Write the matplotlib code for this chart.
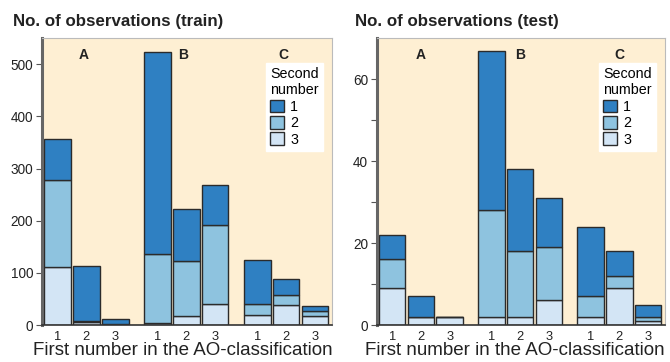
import numpy as np
import matplotlib
matplotlib.use('Agg')
import matplotlib.pyplot as plt
from matplotlib.patches import Patch

plt.rcParams['font.family'] = ['Liberation Sans', 'DejaVu Sans']

groups = ['A', 'B', 'C']
first_labels = ['1', '2', '3', '1', '2', '3', '1', '2', '3']

# stacked counts, bottom -> top is second number 3, 2, 1
train_3 = [111, 5, 1, 4, 17, 40, 20, 38, 17]
train_2 = [167, 2, 1, 133, 105, 151, 20, 20, 9]
train_1 = [78, 106, 9, 386, 100, 77, 85, 31, 10]

test_3 = [9, 2, 2, 2, 2, 6, 2, 9, 1]
test_2 = [7, 0, 0, 26, 16, 13, 5, 3, 1]
test_1 = [6, 5, 0, 39, 20, 12, 17, 6, 3]

c1 = '#2f80c2'
c2 = '#8ec3df'
c3 = '#d3e5f5'
bg = '#feefd3'
edge = '#2b2b2b'

pos = np.array([0, 1, 2, 3.46, 4.46, 5.46, 6.92, 7.92, 8.92])
width = 0.92

fig = plt.figure(figsize=(6.7, 3.62), dpi=100)
ax1 = fig.add_axes([0.0622, 0.1022, 0.433, 0.792])
ax2 = fig.add_axes([0.562, 0.1022, 0.430, 0.792])


def draw(ax, s3, s2, s1, ymax, major, minor, title, title_x, label_x, grp_dx):
    s3 = np.array(s3); s2 = np.array(s2); s1 = np.array(s1)
    ax.set_facecolor(bg)
    ax.bar(pos, s3, width, color=c3, edgecolor=edge, linewidth=1.0)
    ax.bar(pos, s2, width, bottom=s3, color=c2, edgecolor=edge, linewidth=1.0)
    ax.bar(pos, s1, width, bottom=s3 + s2, color=c1, edgecolor=edge, linewidth=1.0)
    ax.set_xlim(-0.55, 9.5)
    ax.set_ylim(0, ymax)
    ax.set_yticks(major)
    ax.set_yticks(minor, minor=True)
    ax.tick_params(axis='y', which='both', direction='out', length=4, width=0.8,
                   color='#555555', labelsize=9.8, pad=2, labelcolor='#222222')
    ax.set_xticks(pos)
    ax.set_xticklabels(first_labels)
    ax.tick_params(axis='x', length=0, labelsize=9.3, pad=4, labelcolor='#222222')
    ax.spines['left'].set_color('#666666')
    ax.spines['left'].set_linewidth(2.2)
    ax.spines['bottom'].set_color('#333333')
    ax.spines['bottom'].set_linewidth(1.2)
    ax.spines['top'].set_color('#bbbbbb')
    ax.spines['right'].set_color('#bbbbbb')
    ax.spines['top'].set_linewidth(0.8)
    ax.spines['right'].set_linewidth(0.8)
    for g, x in zip(groups, [1, 4.46, 7.92]):
        ax.text(x + grp_dx, 0.965, g, transform=ax.get_xaxis_transform(),
                ha='center', va='top', fontsize=10, fontweight='bold', color='#222222')
    ax.set_xlabel('First number in the AO-classification', fontsize=13.5,
                  color='#222222')
    ax.xaxis.set_label_coords(label_x, -0.058, transform=ax.transAxes)
    ax.xaxis.label.set_va('top')
    handles = [Patch(facecolor=c1, edgecolor=edge), Patch(facecolor=c2, edgecolor=edge),
               Patch(facecolor=c3, edgecolor=edge)]
    leg = ax.legend(handles, ['1', '2', '3'], title='Second\nnumber', loc='upper right',
                    bbox_to_anchor=(0.97, 0.914), frameon=True, fancybox=False,
                    framealpha=1, edgecolor='white', fontsize=10.3, title_fontsize=10.3,
                    handlelength=1.0, handleheight=1.0, handletextpad=0.4,
                    labelspacing=0.15, borderpad=0.3, borderaxespad=0)
    leg._legend_box.align = 'left'
    fig.text(title_x, 0.94, title, fontsize=12.2,
             fontweight='bold', color='#222222', ha='left', va='center')


draw(ax1, train_3, train_2, train_1, 550, [0, 100, 200, 300, 400, 500], [],
     'No. of observations (train)', 0.019, 0.485, -0.1)
draw(ax2, test_3, test_2, test_1, 70, [0, 20, 40, 60], [10, 30, 50],
     'No. of observations (test)', 0.530, 0.48, 0.0)

plt.savefig('out.png', dpi=100)
